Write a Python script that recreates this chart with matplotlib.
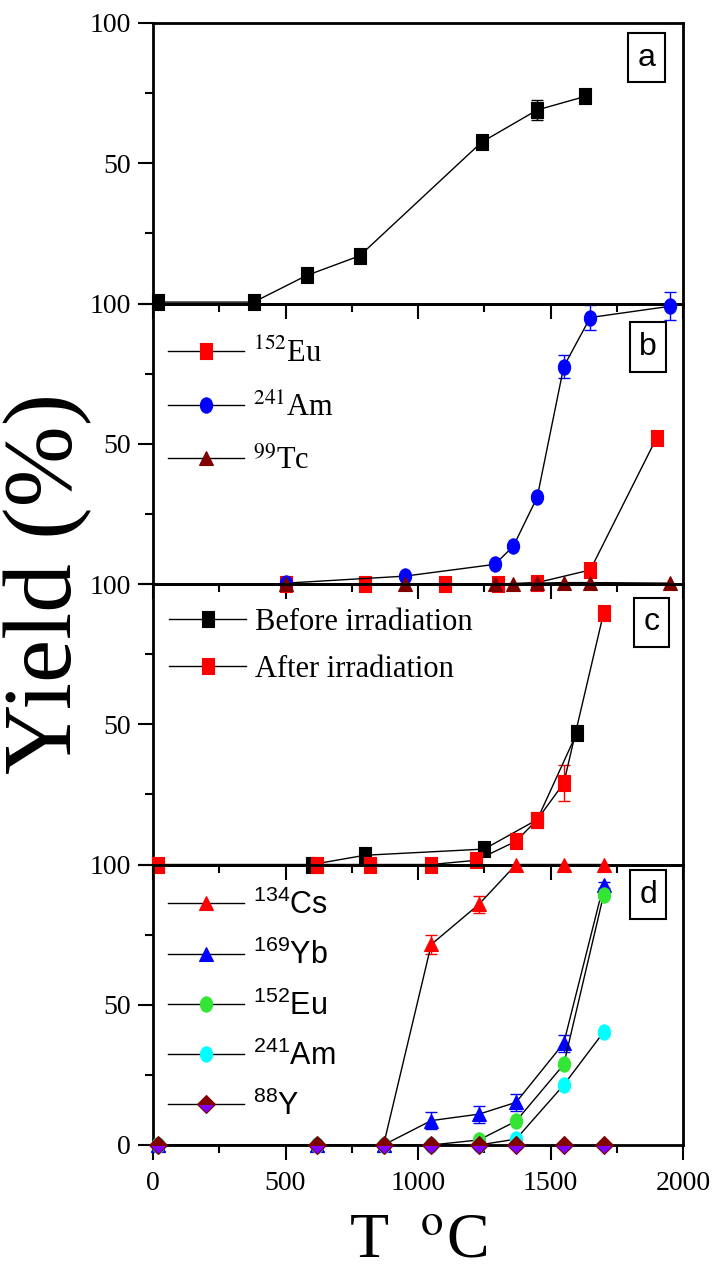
import matplotlib
matplotlib.use("Agg")
import matplotlib.pyplot as plt
from matplotlib.path import Path
from matplotlib.transforms import Affine2D
from matplotlib.ticker import MultipleLocator
from matplotlib.font_manager import FontProperties

SERIF, SANS = "Liberation Serif", "Liberation Sans"
plt.rcParams.update({"font.family": SERIF, "mathtext.fontset": "custom",
                     "mathtext.rm": SANS, "mathtext.it": SANS + ":italic",
                     "mathtext.bf": SANS + ":bold"})

# panel a
t_a = [20, 380, 580, 780, 1240, 1450, 1630]
y_a = [0.5, 0.5, 10, 17, 57.5, 69, 73.8]
e_a = [0, 0, 1.2, 1.8, 1.5, 3.5, 1.0]

# panel b
t_b_eu = [500, 800, 1100, 1300, 1450, 1650, 1900]
y_b_eu = [0, 0, 0, 0, 0.5, 5, 52]
t_b_am = [500, 950, 1290, 1360, 1450, 1550, 1650, 1950]
y_b_am = [0.3, 2.8, 7, 13.5, 31, 77.5, 95, 99]
e_b_am = [0, 0.8, 0, 0, 0, 4, 4.5, 5]
t_b_tc = [500, 950, 1290, 1360, 1450, 1550, 1650, 1950]
y_b_tc = [0, 0, 0, 0, 0.3, 0.5, 0.5, 0.3]

# panel c
t_c_before = [600, 800, 1250, 1450, 1600]
y_c_before = [0, 3.3, 5.5, 16, 47]
t_c_after = [20, 620, 820, 1050, 1220, 1370, 1450, 1550, 1700]
y_c_after = [0, 0, 0, 0, 1.5, 8.3, 16, 29, 89.5]
e_c_after = [0.6, 0, 0, 0, 0, 0, 0, 6.5, 0]

# panel d
t_d = [20, 620, 870, 1050, 1230, 1370, 1550, 1700]
y_d_cs = [0, 0, 0, 71.5, 85.8, 100, 100, 100]
e_d_cs = [0.8, 0.8, 0.8, 3.5, 3, 0, 0, 0]
y_d_yb = [0, 0, 0, 8.7, 11, 15.2, 36.3, 92.6]
e_d_yb = [0.8, 0.8, 0.8, 3, 3, 3, 3, 1]
y_d_eu = [0, 0, 0, 0, 1.8, 8.5, 28.7, 89]
y_d_am = [0, 0, 0, 0, 0, 2.1, 21.4, 40.2]
y_d_y = [0, 0, 0, 0, 0, 0, 0, 0]

RED, BLUE, DRED = "#ff0000", "#0000ff", "#800000"
GREEN, CYAN, VIOLET = "#33e633", "#00ffff", "#8000ff"

# slightly tall square / circle, like the stretched original
SQ = Path.unit_rectangle().transformed(Affine2D().translate(-0.5, -0.5).scale(0.8, 1.0))
CI = Path.unit_circle().transformed(Affine2D().scale(0.4, 0.5))


def series(ax, x, y, marker, color, ms, err=None, label=None, **kw):
    if err is not None:
        eb = ax.errorbar(x, y, yerr=err, fmt="none", ecolor=color, elinewidth=1,
                         capsize=4, capthick=1, zorder=2)
        for ch in eb.get_children():
            ch.set_clip_on(False)
    ln, = ax.plot(x, y, color="black", lw=1, marker=marker, ms=ms, mfc=color,
                  mec=color, mew=0.8, zorder=3, clip_on=False, label=label, **kw)
    return ln


def panel_tag(ax, s, x, y):
    ax.text(x, y, s, transform=ax.transAxes, ha="center", va="center",
            family=SANS, size=23, zorder=5,
            bbox=dict(boxstyle="square,pad=0.3", fc="white", ec="black", lw=1.5))


def legend(ax, handles, anchor, family, size, math, spacing):
    leg = ax.legend(handles=handles, loc="upper left", bbox_to_anchor=anchor,
                    frameon=False, prop=FontProperties(family=family, size=size),
                    handlelength=2.5, handletextpad=0.3, labelspacing=spacing,
                    borderpad=0, borderaxespad=0, numpoints=1)
    for t in leg.get_texts():
        t.set_math_fontfamily(math)


fig = plt.figure(figsize=(7.16, 12.74), dpi=100)
L, W, H = 153 / 716, 530 / 716, 280.5 / 1274
tops = [23, 303.5, 584, 864.5]
axes = [fig.add_axes([L, 1 - (t + 280.5) / 1274, W, H]) for t in tops]

for i, ax in enumerate(axes):
    ax.patch.set_visible(False)
    ax.set_xlim(0, 2000)
    ax.set_ylim(0, 100)
    ax.xaxis.set_major_locator(MultipleLocator(500))
    ax.xaxis.set_minor_locator(MultipleLocator(250))
    ax.set_yticks([0, 50, 100])
    # the "0" of an upper panel sits under the "100" of the one below it
    ax.set_yticklabels(["0" if i == 3 else "", "50", "100"])
    ax.set_yticks([25, 75], minor=True)
    ax.tick_params(which="both", direction="out", top=False, right=False,
                   width=1.5, labelsize=20, pad=5)
    ax.tick_params(which="major", length=11)
    ax.tick_params(which="minor", length=6)
    ax.tick_params(axis="x", pad=8, labelbottom=(i == 3))
    for sp in ax.spines.values():
        sp.set_linewidth(2)

ax = axes[0]
series(ax, t_a, y_a, SQ, "black", 11, err=e_a)
panel_tag(ax, "a", 0.931, 0.877)

ax = axes[1]
h1 = series(ax, t_b_eu, y_b_eu, SQ, RED, 11, label="$^{152}$Eu")
h2 = series(ax, t_b_am, y_b_am, CI, BLUE, 11, err=e_b_am, label="$^{241}$Am")
h3 = series(ax, t_b_tc, y_b_tc, "^", DRED, 10.5, label="$^{99}$Tc")
legend(ax, [h1, h2, h3], (0.028, 0.875), SERIF, 22, "stix", 0.78)
panel_tag(ax, "b", 0.934, 0.845)

ax = axes[2]
h1 = series(ax, t_c_before, y_c_before, SQ, "black", 11, label="Before irradiation")
h2 = series(ax, t_c_after, y_c_after, SQ, RED, 11, err=e_c_after, label="After irradiation")
legend(ax, [h1, h2], (0.031, 0.915), SERIF, 22, "stix", 0.6)
panel_tag(ax, "c", 0.9406, 0.864)

ax = axes[3]
h1 = series(ax, t_d, y_d_cs, "^", RED, 10.5, err=e_d_cs, label="$^{134}$Cs")
h2 = series(ax, t_d, y_d_yb, "^", BLUE, 10.5, err=e_d_yb, label="$^{169}$Yb")
h3 = series(ax, t_d, y_d_eu, CI, GREEN, 11, label="$^{152}$Eu")
h4 = series(ax, t_d, y_d_am, CI, CYAN, 11, label="$^{241}$Am")
h5 = series(ax, t_d, y_d_y, "D", DRED, 9, label="$^{88}$Y",
            fillstyle="top", mfcalt=VIOLET)
legend(ax, [h1, h2, h3, h4, h5], (0.028, 0.91), SANS, 22, "custom", 0.62)
panel_tag(ax, "d", 0.934, 0.893)

fig.text(418 / 716, 2 / 1274, "T  $^{\\rm o}$C", ha="center", va="bottom",
         size=46, family=SERIF, math_fontfamily="stix")
fig.text(48 / 716, 1 - 583 / 1274, "Yield (%)", rotation=90, ha="center",
         va="center", size=70, family=SERIF)

fig.savefig("out.png", dpi=100)
